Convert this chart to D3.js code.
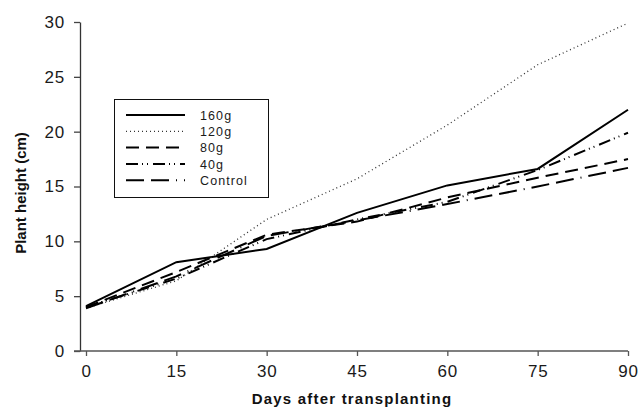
<!DOCTYPE html>
<html>
<head>
<meta charset="utf-8">
<script src="https://cdn.jsdelivr.net/npm/d3@7"></script>
<style>
  body { margin: 0; background: #fff; }
  svg { display: block; font-family: "Liberation Sans", Arial, sans-serif; }
</style>
</head>
<body>
<div id="chart"></div>
<script>
// Data
var days = [0, 15, 30, 45, 60, 75, 90];
var seriesNames = ["160g", "120g", "80g", "40g", "Control"];
var h160 = [4.1, 8.1, 9.3, 12.6, 15.1, 16.6, 22.0];
var h120 = [3.9, 6.4, 12.0, 15.7, 20.6, 26.1, 29.9];
var h80 = [4.0, 7.2, 10.6, 11.8, 14.0, 15.8, 17.5];
var h40 = [4.0, 6.6, 10.2, 12.0, 13.6, 16.5, 19.9];
var hControl = [3.9, 6.8, 10.5, 11.9, 13.4, 15.0, 16.7];
var yTicks = [0, 5, 10, 15, 20, 25, 30];

var seriesValues = [h160, h120, h80, h40, hControl];

// line styles for each treatment
var dashes = ["none", "1,3", "13,7", "12,4,1,4,1,5", "18,7,18,7,1,7"];
var widths = [2, 1.3, 2, 2, 2];

var svgWidth = 638;
var svgHeight = 408;

var svg = d3.select("#chart")
    .append("svg")
        .attr("width", svgWidth)
        .attr("height", svgHeight);

// scales
var x = d3.scaleLinear().domain([0, 90]).range([86, 628]);
var y = d3.scaleLinear().domain([0, 30]).range([351, 22]);

// y axis
var yAxis = svg.append("g")
    .attr("transform", "translate(80,0)")
    .call(d3.axisLeft(y).tickValues(yTicks).tickSize(6).tickSizeOuter(0).tickPadding(9));
yAxis.select(".domain").attr("stroke", "#333").attr("stroke-width", 1.3);
yAxis.selectAll(".tick line").attr("stroke", "#444").attr("stroke-width", 1.3);
yAxis.selectAll("text")
    .attr("font-size", "17px")
    .attr("letter-spacing", "0.8px")
    .attr("fill", "#1a1a1a");

// x axis
var xAxis = svg.append("g")
    .attr("transform", "translate(0,351)")
    .call(d3.axisBottom(x).tickValues(days).tickSize(5).tickSizeOuter(0).tickPadding(9));
xAxis.select(".domain").remove();
xAxis.append("line")
    .attr("x1", 74)
    .attr("x2", x(90))
    .attr("stroke", "#555")
    .attr("stroke-width", 1.3);
xAxis.selectAll(".tick line").attr("stroke", "#555").attr("stroke-width", 1.3);
xAxis.selectAll("text")
    .attr("font-size", "17px")
    .attr("letter-spacing", "0.8px")
    .attr("fill", "#1a1a1a");

// axis titles
svg.append("text")
    .attr("x", 352)
    .attr("y", 404)
    .attr("text-anchor", "middle")
    .attr("font-size", "15px")
    .attr("font-weight", "bold")
    .attr("letter-spacing", "1.2px")
    .attr("fill", "#111")
    .text("Days after transplanting");

svg.append("text")
    .attr("transform", "translate(26,193) rotate(-90)")
    .attr("text-anchor", "middle")
    .attr("font-size", "15px")
    .attr("font-weight", "bold")
    .attr("fill", "#111")
    .text("Plant height (cm)");

// lines
var line = d3.line()
    .x(function(d, i) { return x(days[i]); })
    .y(function(d) { return y(d); });

svg.selectAll(".series")
    .data(seriesValues)
    .enter()
    .append("path")
        .attr("class", "series")
        .attr("d", line)
        .attr("fill", "none")
        .attr("stroke", function(d, i) { return i == 1 ? "#333" : "#000"; })
        .attr("stroke-width", function(d, i) { return widths[i]; })
        .attr("stroke-dasharray", function(d, i) { return dashes[i]; });

// legend
var legend = svg.append("g");
legend.append("rect")
    .attr("x", 114.5)
    .attr("y", 99.5)
    .attr("width", 154)
    .attr("height", 98)
    .attr("fill", "#fff")
    .attr("stroke", "#111")
    .attr("stroke-width", 1);

var rows = legend.selectAll(".row")
    .data(seriesNames)
    .enter()
    .append("g")
        .attr("transform", function(d, i) { return "translate(0," + (115 + i * 16.3) + ")"; });

rows.append("line")
    .attr("x1", 126)
    .attr("x2", 185)
    .attr("stroke", function(d, i) { return i == 1 ? "#333" : "#000"; })
    .attr("stroke-width", function(d, i) { return widths[i]; })
    .attr("stroke-dasharray", function(d, i) { return dashes[i]; });

rows.append("text")
    .attr("x", 200)
    .attr("y", 4.6)
    .attr("font-size", "12.5px")
    .attr("letter-spacing", "1.1px")
    .attr("fill", "#1a1a1a")
    .text(function(d) { return d; });
</script>
</body>
</html>
